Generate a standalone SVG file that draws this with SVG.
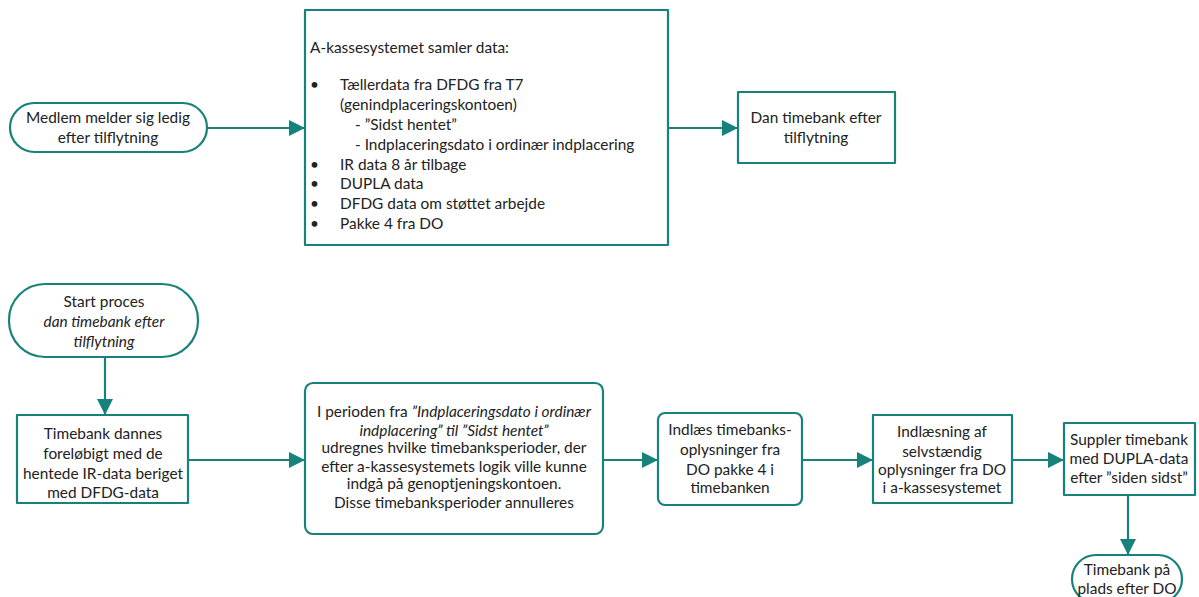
<svg xmlns="http://www.w3.org/2000/svg" width="1199" height="597" viewBox="0 0 1199 597">
<defs>
<style>
.box{fill:#fff;stroke:#17827c;stroke-width:2.2;stroke-linejoin:round}
.con{fill:none;stroke:#17827c;stroke-width:2.2}
text{font-family:Lato,"Open Sans",sans-serif;font-size:15.4px;fill:#222}
.c{text-anchor:middle}
.i{font-style:italic}
</style>
<marker id="ah" viewBox="0 0 16 16" refX="16" refY="8" markerWidth="16" markerHeight="16" markerUnits="userSpaceOnUse" orient="auto">
<path d="M0,0 L16,8 L0,16 Z" fill="#17827c"/>
</marker>
</defs>
<rect width="1199" height="597" fill="#fff"/>
<g id="connectors">
<path class="con" d="M207,128 H305" marker-end="url(#ah)"/>
<path class="con" d="M668,128 H738" marker-end="url(#ah)"/>
<path class="con" d="M105,357 V415" marker-end="url(#ah)"/>
<path class="con" d="M188,460 H305" marker-end="url(#ah)"/>
<path class="con" d="M603,460 H658" marker-end="url(#ah)"/>
<path class="con" d="M802,460 H873" marker-end="url(#ah)"/>
<path class="con" d="M1012,460 H1064" marker-end="url(#ah)"/>
<path class="con" d="M1128,495 V555" marker-end="url(#ah)"/>
</g>
<g id="n1">
<rect class="box" x="10" y="103" width="197" height="49" rx="24.5"/>
<text class="c" x="108" y="123">Medlem melder sig ledig</text>
<text class="c" x="108" y="143">efter tilflytning</text>
</g>
<g id="n2">
<rect class="box" x="305" y="10" width="363" height="235"/>
<text x="310" y="53">A-kassesystemet samler data:</text>
<text x="310" y="90">•</text><text x="340" y="90">Tællerdata fra DFDG fra T7</text>
<text x="340" y="110">(genindplaceringskontoen)</text>
<text x="355" y="130">- ”Sidst hentet”</text>
<text x="355" y="150">- Indplaceringsdato i ordinær indplacering</text>
<text x="310" y="170">•</text><text x="340" y="170">IR data 8 år tilbage</text>
<text x="310" y="189">•</text><text x="340" y="189">DUPLA data</text>
<text x="310" y="209">•</text><text x="340" y="209">DFDG data om støttet arbejde</text>
<text x="310" y="229">•</text><text x="340" y="229">Pakke 4 fra DO</text>
</g>
<g id="n3">
<rect class="box" x="738" y="92" width="157" height="71"/>
<text class="c" x="816" y="123">Dan timebank efter</text>
<text class="c" x="816" y="143">tilflytning</text>
</g>
<g id="n4">
<rect class="box" x="9" y="284" width="189" height="73" rx="36"/>
<text class="c" x="104" y="307">Start proces</text>
<text class="c i" x="104" y="327">dan timebank efter</text>
<text class="c i" x="104" y="347">tilflytning</text>
</g>
<g id="n5">
<rect class="box" x="17" y="415" width="171" height="88"/>
<text class="c" x="103" y="439">Timebank dannes</text>
<text class="c" x="103" y="459">foreløbigt med de</text>
<text class="c" x="103" y="479">hentede IR-data beriget</text>
<text class="c" x="103" y="498">med DFDG-data</text>
</g>
<g id="n6">
<rect class="box" x="305" y="383" width="298" height="151" rx="8"/>
<text class="c" x="454" y="417">I perioden fra <tspan class="i">”Indplaceringsdato i ordinær</tspan></text>
<text class="c i" x="454" y="436">indplacering” til ”Sidst hentet”</text>
<text class="c" x="454" y="453">udregnes hvilke timebanksperioder, der</text>
<text class="c" x="454" y="472">efter a-kassesystemets logik ville kunne</text>
<text class="c" x="454" y="489">indgå på genoptjeningskontoen.</text>
<text class="c" x="454" y="508">Disse timebanksperioder annulleres</text>
</g>
<g id="n7">
<rect class="box" x="658" y="413" width="144" height="92" rx="7"/>
<text class="c" x="730" y="435">Indlæs timebanks-</text>
<text class="c" x="730" y="455">oplysninger fra</text>
<text class="c" x="730" y="475">DO pakke 4 i</text>
<text class="c" x="730" y="493">timebanken</text>
</g>
<g id="n8">
<rect class="box" x="873" y="415" width="139" height="88"/>
<text class="c" x="942" y="437">Indlæsning af</text>
<text class="c" x="942" y="457">selvstændig</text>
<text class="c" x="942" y="475">oplysninger fra DO</text>
<text class="c" x="942" y="493">i a-kassesystemet</text>
</g>
<g id="n9">
<rect class="box" x="1064" y="423" width="131" height="72"/>
<text class="c" x="1129" y="445">Suppler timebank</text>
<text class="c" x="1129" y="464">med DUPLA-data</text>
<text class="c" x="1129" y="483">efter ”siden sidst”</text>
</g>
<g id="n10">
<rect class="box" x="1072" y="555" width="110" height="48" rx="24"/>
<text class="c" x="1127" y="575">Timebank på</text>
<text class="c" x="1127" y="594">plads efter DO</text>
</g>
</svg>
